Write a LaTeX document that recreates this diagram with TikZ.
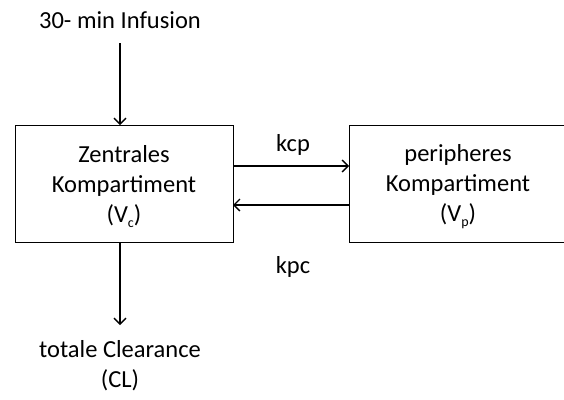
\documentclass[tikz,border=0pt]{standalone}
\usepackage{fontspec}
\setmainfont{Carlito}
\usetikzlibrary{arrows.meta}
\newcommand{\lowsub}[1]{\raisebox{-5pt}{\fontsize{14}{14}\selectfont #1}}
\begin{document}
\begin{tikzpicture}[x=1pt,y=-1pt,
  box/.style={draw,line width=1pt,minimum width=218pt,minimum height=117pt,inner sep=0pt},
  lbl/.style={font=\fontsize{24.5}{30}\selectfont,align=center,inner sep=0pt},
  arr/.style={line width=1.1pt,-{Straight Barb[length=6pt,width=12pt,line width=1.4pt]}}]
\useasboundingbox (0,0) rectangle (564,399);
\node[box] (C) at (124,183.5) {};
\node[box] (P) at (458,183.5) {};
\node[lbl] (ct) at (124,187) {Zentrales\\Kompartiment\\(V\lowsub{c})};
\node[lbl] (pt) at (458,187) {peripheres\\Kompartiment\\(V\lowsub{p})};
\node[lbl] (inf) at (120,20) {30- min Infusion};
\node[lbl] (cl) at (120,366) {totale Clearance\\(CL)};
\node[lbl] (kcp) at (293,145) {kcp};
\node[lbl] (kpc) at (293,267) {kpc};
\coordinate (i0) at (120,43);
\coordinate (i1) at (120,125);
\coordinate (o0) at (120,242);
\coordinate (o1) at (120,325);
\coordinate (a0) at (233,166);
\coordinate (a1) at (349,166);
\coordinate (b0) at (349,205);
\coordinate (b1) at (233,205);
\draw[arr] (i0) -- (i1);
\draw[arr] (o0) -- (o1);
\draw[arr] (a0) -- (a1);
\draw[arr] (b0) -- (b1);
\end{tikzpicture}
\end{document}
